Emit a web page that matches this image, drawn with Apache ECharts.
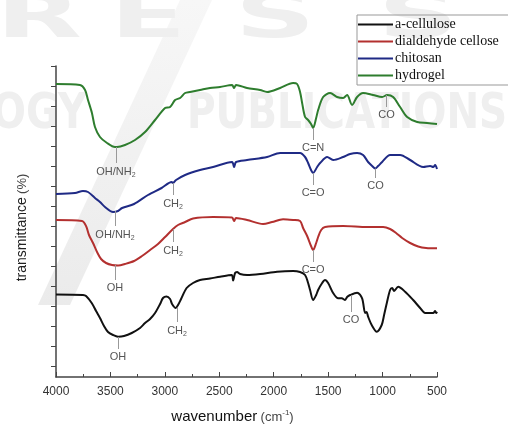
<!DOCTYPE html>
<html>
<head>
<meta charset="utf-8">
<script src="https://cdn.jsdelivr.net/npm/echarts@6/dist/echarts.min.js"></script>
<style>
  html, body { margin: 0; padding: 0; background: #fff; }
  #chart { width: 508px; height: 425px; }
</style>
</head>
<body>
<div id="chart"></div>
<script>
// FTIR spectra, [wavenumber, transmittance (arbitrary offset units)]
const aCellulose = [
  [4000, 82.5], [3752, 82], [3724, 81], [3672, 74], [3632, 66], [3596, 59], [3559, 51],
  [3522, 45], [3476, 42], [3430, 40.3], [3375, 41], [3304, 44], [3228, 49], [3182, 54],
  [3136, 58], [3090, 64], [3044, 73], [3017, 79], [2985, 80.5], [2952, 78], [2934, 73],
  [2900, 69], [2879, 72], [2851, 78], [2800, 89], [2741, 94], [2677, 97], [2585, 98.5],
  [2493, 100.3], [2386, 102], [2373, 96.5], [2355, 104], [2337, 105], [2309, 103],
  [2245, 102], [2125, 103], [1969, 105.3], [1822, 106], [1758, 105], [1712, 102],
  [1684, 94], [1666, 87], [1638, 77], [1610, 82], [1592, 87], [1555, 94], [1528, 97],
  [1500, 94], [1454, 84], [1408, 78.7], [1375, 78.7], [1344, 77], [1326, 80], [1298, 82],
  [1234, 84.3], [1188, 78.7], [1160, 64], [1147, 65], [1133, 60.3], [1100, 52], [1053, 45.3],
  [1008, 52], [986, 62], [961, 74], [931, 87], [912, 89], [894, 86], [857, 90.3], [793, 85.3],
  [719, 77], [655, 69], [609, 64], [535, 64], [517, 66], [508, 64], [500, 65.3]
];
const dialdehydeCellulose = [
  [4000, 157], [3761, 156], [3724, 151], [3697, 142], [3660, 134], [3623, 125], [3586, 118],
  [3540, 114], [3485, 112], [3430, 111.5], [3366, 113], [3283, 116], [3210, 121], [3136, 127],
  [3063, 133], [2998, 140], [2925, 148], [2879, 152], [2814, 155], [2741, 158.5], [2557, 160],
  [2383, 159.5], [2364, 156], [2346, 159], [2245, 157], [2098, 153], [2015, 155], [1914, 157.7],
  [1822, 157], [1758, 156], [1730, 149], [1693, 141], [1657, 131], [1638, 127], [1610, 134],
  [1592, 140], [1564, 147], [1528, 150], [1362, 151], [1142, 150], [995, 150], [931, 148],
  [876, 144], [820, 139], [747, 134], [673, 130.5], [600, 129], [500, 128.7]
];
const chitosan = [
  [4000, 183], [3825, 184], [3752, 186], [3706, 185], [3642, 179], [3596, 175], [3550, 170],
  [3476, 165], [3430, 166], [3393, 169], [3283, 173], [3155, 182], [3030, 189], [2937, 195],
  [2925, 194], [2897, 197], [2814, 202], [2677, 207], [2557, 210], [2383, 215], [2364, 210],
  [2346, 215], [2245, 217], [2061, 220], [1941, 224], [1822, 224], [1758, 224], [1712, 220],
  [1684, 214], [1657, 207], [1638, 204], [1601, 210], [1574, 214], [1509, 220], [1454, 217],
  [1362, 220], [1298, 223], [1234, 224], [1179, 222], [1133, 215], [1096, 211], [1068, 208.5],
  [1041, 211], [1004, 215], [931, 222], [839, 222], [747, 217], [627, 210], [563, 211],
  [535, 210], [517, 212], [500, 208]
];
const hydrogel = [
  [4000, 293], [3780, 292], [3733, 287], [3706, 277], [3670, 264], [3642, 250], [3596, 240],
  [3531, 234], [3458, 230], [3440, 230], [3366, 232], [3274, 237], [3182, 245], [3090, 257],
  [2998, 269], [2952, 270], [2906, 277], [2860, 279], [2814, 284], [2769, 285], [2677, 287],
  [2585, 289], [2493, 290], [2383, 292], [2364, 289], [2346, 292], [2245, 289], [2125, 287],
  [2061, 285], [1941, 289], [1822, 294], [1785, 293], [1758, 285], [1739, 274], [1712, 260],
  [1684, 257], [1657, 253], [1638, 249], [1610, 259], [1592, 267], [1546, 280], [1482, 284],
  [1418, 280], [1362, 279], [1326, 282], [1280, 272], [1234, 280], [1179, 284], [1087, 282],
  [1004, 280], [958, 282], [903, 280], [839, 270], [774, 260], [682, 255], [591, 254],
  [500, 253]
];

const seriesNames = ['a-cellulose', 'dialdehyde cellose', 'chitosan', 'hydrogel'];
const seriesColors = ['#111111', '#b3302f', '#1f2a85', '#2e7d2e'];
const xTicks = [4000, 3500, 3000, 2500, 2000, 1500, 1000, 500];

// band labels: [wavenumber, from, to, text]
const peaks = [
  [
    [3430, 40, 28, '{t|OH}'],
    [2888, 69, 55, '{t|CH}{s|2}'],
    [1289, 82, 65, '{t|CO}']
  ],
  [
    [3458, 112, 97, '{t|OH}'],
    [2925, 148, 135, '{t|CH}{s|2}'],
    [1638, 127, 115, '{t|C=O}']
  ],
  [
    [3458, 166, 151, '{t|OH/NH}{s|2}'],
    [2925, 194, 182, '{t|CH}{s|2}'],
    [1638, 204, 192, '{t|C=O}'],
    [1064, 208.5, 199, '{t|CO}']
  ],
  [
    [3450, 230, 214, '{t|OH/NH}{s|2}'],
    [1638, 249, 237, '{t|C=N}'],
    [963, 282, 270, '{t|CO}']
  ]
];

// y ticks sit every 20 px starting 11 px above the x axis
const yTicks = [];
for (let v = 11; v <= 311; v += 20) yTicks.push(v);

const chart = echarts.init(document.getElementById('chart'));

const sans = 'Liberation Sans, Arial, sans-serif';
const peakLabel = {
  show: true,
  position: 'end',
  distance: 2,
  color: '#555',
  fontFamily: sans,
  fontSize: 11,
  rich: {
    t: { fontSize: 11, color: '#555', fontFamily: sans },
    s: { fontSize: 7, color: '#555', padding: [7, 0, 0, 0], fontFamily: sans }
  }
};

const dataSets = [aCellulose, dialdehydeCellulose, chitosan, hydrogel];

const series = dataSets.map((d, i) => ({
  name: seriesNames[i],
  type: 'line',
  data: d,
  showSymbol: false,
  smooth: 0.3,
  lineStyle: { color: seriesColors[i], width: 2 },
  itemStyle: { color: seriesColors[i] },
  markLine: {
    silent: true,
    animation: false,
    symbol: ['none', 'none'],
    lineStyle: { color: '#999', width: 1, type: 'solid' },
    label: peakLabel,
    data: peaks[i].map(p => [
      { coord: [p[0], p[1]] },
      { coord: [p[0], p[2]], label: Object.assign({}, peakLabel, { formatter: p[3] }) }
    ])
  }
}));

// faint publisher watermark behind the plot
const wmFill = '#efefef';
const wmLetter = (ch, x) => ({
  type: 'text',
  z: -10,
  silent: true,
  x: x,
  y: -10,
  scaleX: 1.8,
  style: { text: ch, font: 'bold 62px "DejaVu Sans"', fill: wmFill }
});
const watermark = [
  {
    type: 'polygon',
    z: -10,
    silent: true,
    shape: { points: [[180, 0], [212, 0], [70, 305], [38, 305]] },
    style: {
      fill: new echarts.graphic.LinearGradient(0, 0, 0, 1, [
        { offset: 0, color: '#f7f7f7' },
        { offset: 1, color: '#ebebeb' }
      ])
    }
  },
  wmLetter('R', -4),
  wmLetter('E', 110),
  wmLetter('S', 235),
  wmLetter('S', 378),
  {
    type: 'text',
    z: -10,
    silent: true,
    x: -8,
    y: 90,
    scaleX: 0.8,
    style: { text: 'OGY', font: 'bold 50px "DejaVu Sans"', fill: wmFill }
  },
  {
    type: 'text',
    z: -10,
    silent: true,
    x: 187,
    y: 90,
    scaleX: 0.78,
    style: { text: 'PUBLICATIONS', font: 'bold 50px "DejaVu Sans"', fill: wmFill }
  }
];

chart.setOption({
  animation: false,
  backgroundColor: '#fff',
  graphic: watermark,
  grid: { left: 56, right: 71, top: 66, bottom: 48, outerBoundsMode: 'none' },
  legend: {
    orient: 'vertical',
    left: 357,
    top: 15,
    data: seriesNames,
    icon: 'rect',
    itemWidth: 35,
    itemHeight: 2,
    itemGap: 2,
    padding: [2, 20, 2, 1],
    borderColor: '#999',
    borderWidth: 1,
    textStyle: {
      fontFamily: 'Liberation Serif, Times New Roman, serif',
      fontSize: 14,
      color: '#111',
      padding: [0, 0, 0, -3],
      lineHeight: 15
    }
  },
  xAxis: {
    type: 'value',
    min: 500,
    max: 4000,
    interval: 500,
    inverse: true,
    name: '{b|wavenumber} {g|(cm}{sup|-1}{g|)}',
    nameLocation: 'middle',
    nameGap: 32,
    nameTextStyle: {
      padding: [0, 28, 0, 0],
      rich: {
        b: { fontFamily: sans, fontSize: 15, color: '#111' },
        g: { fontFamily: sans, fontSize: 13, color: '#444' },
        sup: { fontFamily: sans, fontSize: 8, color: '#444', padding: [0, 0, 8, 0] }
      }
    },
    axisLine: { lineStyle: { color: '#444', width: 1.5 } },
    axisTick: { inside: true, length: 5, lineStyle: { color: '#444' } },
    minorTick: { show: true, splitNumber: 2, length: 3, lineStyle: { color: '#444' } },
    splitLine: { show: false },
    axisLabel: {
      margin: 9,
      color: '#333',
      fontFamily: sans,
      fontSize: 12,
      customValues: xTicks,
      formatter: v => String(v)
    }
  },
  yAxis: {
    type: 'value',
    min: 0,
    max: 311,
    name: '{b|transmittance} {g|(%)}',
    nameLocation: 'middle',
    nameGap: 27,
    nameTextStyle: {
      padding: [0, 12, 0, 0],
      rich: {
        b: { fontFamily: sans, fontSize: 14, color: '#222' },
        g: { fontFamily: sans, fontSize: 13, color: '#444' }
      }
    },
    axisLine: { show: true, lineStyle: { color: '#444', width: 1.5 } },
    axisTick: { show: true, length: 5, customValues: yTicks, lineStyle: { color: '#444' } },
    axisLabel: { show: false },
    splitLine: { show: false }
  },
  series: series
});
</script>
</body>
</html>
